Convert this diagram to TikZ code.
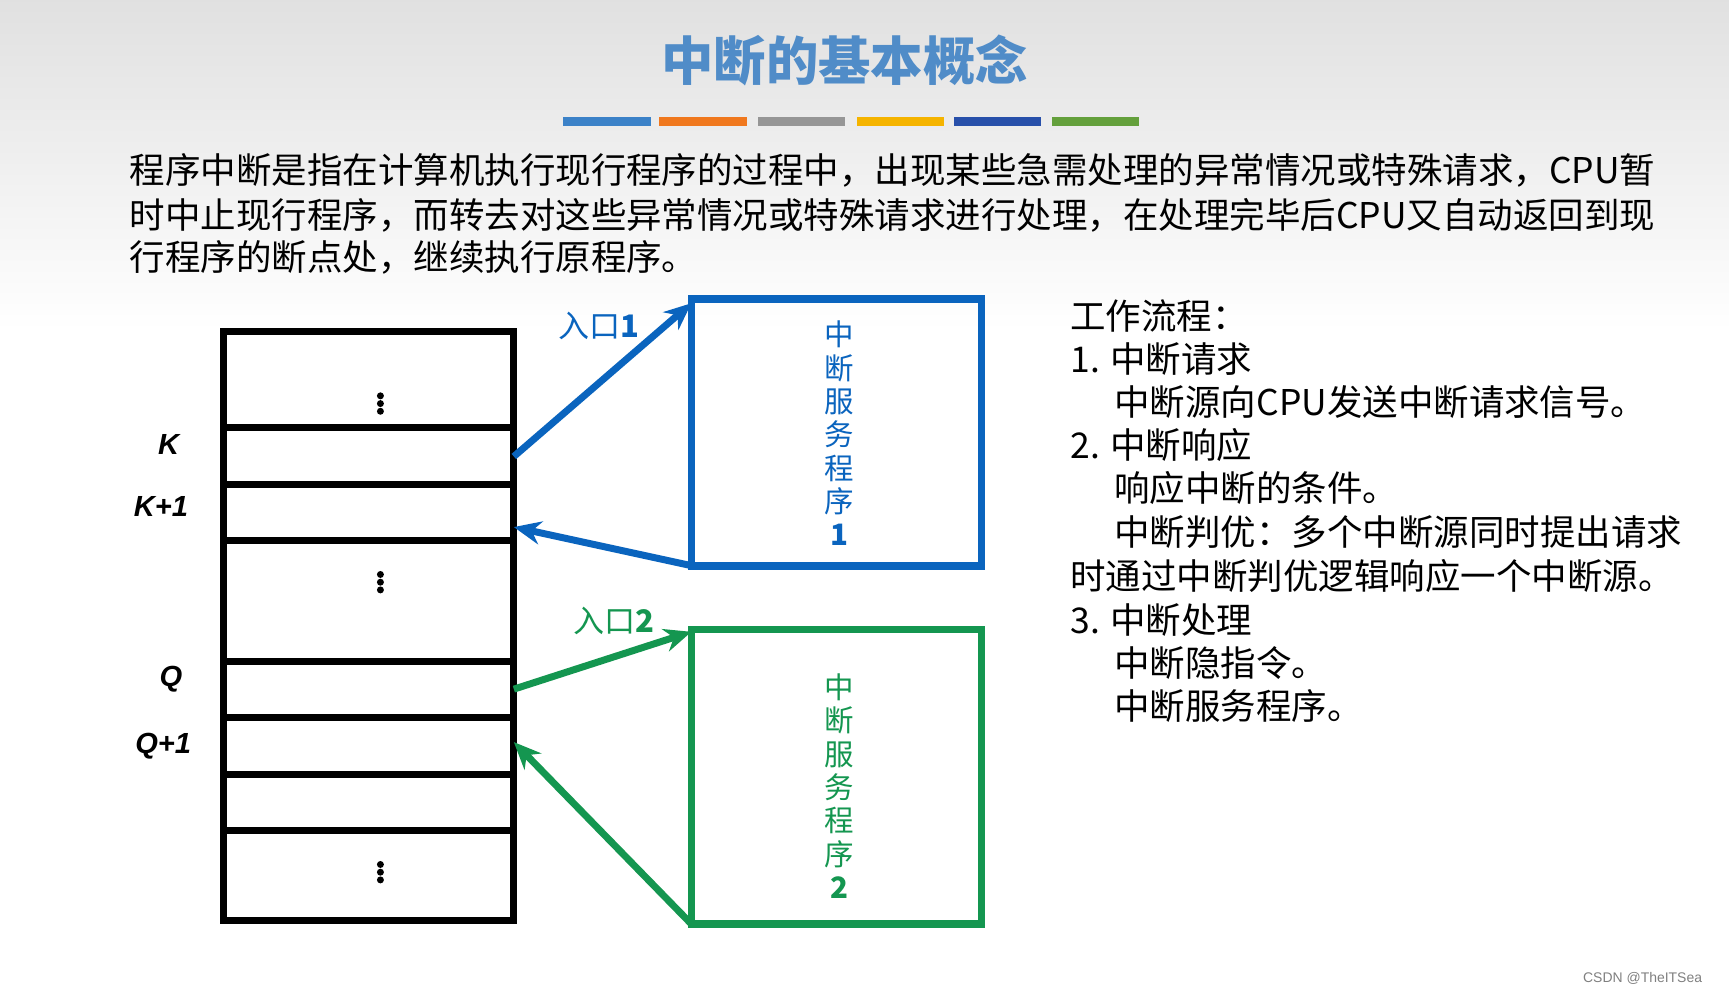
\documentclass[tikz,border=0pt]{standalone}
\usepackage{fontspec}
\setmainfont{Noto Sans CJK SC}
\newfontfamily\latinf{Liberation Sans}
\usetikzlibrary{arrows.meta}
\definecolor{tblue}{RGB}{80,140,200}
\definecolor{bblue}{RGB}{10,100,190}
\definecolor{bgreen}{RGB}{20,150,80}
\definecolor{c1}{RGB}{60,130,200}
\definecolor{c2}{RGB}{240,120,30}
\definecolor{c3}{RGB}{150,150,150}
\definecolor{c4}{RGB}{245,180,0}
\definecolor{c5}{RGB}{40,80,170}
\definecolor{c6}{RGB}{100,160,60}
\tikzset{cell/.style={line width=1.8pt},
 bx/.style={line width=2pt},
 arr/.style={line width=1.8pt,-{Stealth[length=7pt,width=6pt]}},
 body/.style={anchor=west,font=\fontsize{9.15pt}{10pt}\selectfont,inner sep=0},
 lab/.style={font=\latinf\bfseries\itshape\fontsize{7.5pt}{9pt}\selectfont},
 vt/.style={align=center,font=\fontsize{7.6pt}{8.6pt}\selectfont}}
\begin{document}
\begin{tikzpicture}[x=0.01cm,y=-0.01cm]
\useasboundingbox (0,0) rectangle (1568,901);
\shade[top color=black!12,bottom color=white] (0,0) rectangle (1568,300);
\fill[white] (0,300) rectangle (1568,901);
\node[text=tblue,font=\bfseries\fontsize{13.5pt}{15pt}\selectfont] (title) at (766,55) {中断的基本概念};
\foreach \a/\c in {511/c1,598/c2,687/c3,777/c4,865/c5,954/c6}
 \fill[\c] (\a,106) rectangle ++(79,8);
\node[body] (p1) at (117,155) {程序中断是指在计算机执行现行程序的过程中，出现某些急需处理的异常情况或特殊请求，CPU暂};
\node[body] (p2) at (117,195) {时中止现行程序，而转去对这些异常情况或特殊请求进行处理，在处理完毕后CPU又自动返回到现};
\node[body] (p3) at (117,233) {行程序的断点处，继续执行原程序。};
% memory
\draw[cell] (203,301) rectangle (466,835);
\foreach \y in {388,439,490,600,651,702,753} \draw[cell] (203,\y) -- (466,\y);
\foreach \y in {366,528,791} {
  \fill (345,\y-7) circle (0.9pt); \fill (345,\y) circle (0.9pt); \fill (345,\y+7) circle (0.9pt);}
\node[lab] (k) at (153,403) {K};
\node[lab] (k1) at (146,459) {K+1};
\node[lab] (q) at (155,616) {Q};
\node[lab] (q1) at (148,677) {Q+1};
\coordinate (mK) at (466,414);
\coordinate (mK1) at (466,478);
\coordinate (mQ) at (466,625);
\coordinate (mQ1) at (466,673);
% boxes
\draw[bx,bblue] (627,271) rectangle (890,513);
\node[vt,text=bblue] (t1) at (761,393) {中\\断\\服\\务\\程\\序\\\textbf{1}};
\draw[bx,bgreen] (627,571) rectangle (890,838);
\node[vt,text=bgreen] (t2) at (761,713) {中\\断\\服\\务\\程\\序\\\textbf{2}};
\coordinate (b1t) at (627,275);
\coordinate (b1b) at (627,513);
\coordinate (b2t) at (627,573);
\coordinate (b2b) at (627,838);
\draw[arr,bblue] (mK) -- (b1t);
\draw[arr,bblue] (b1b) -- (mK1);
\draw[arr,bgreen] (mQ) -- (b2t);
\draw[arr,bgreen] (b2b) -- (mQ1);
\node[text=bblue,font=\fontsize{8pt}{9pt}\selectfont] (e1) at (543,296) {入口\textbf{1}};
\node[text=bgreen,font=\fontsize{8pt}{9pt}\selectfont] (e2) at (557,563) {入口\textbf{2}};
% right text
\node[body] at (970,287) {工作流程：};
\node[body] at (970,326) {1. 中断请求};
\node[body] at (1010,365) {中断源向CPU发送中断请求信号。};
\node[body] at (970,404) {2. 中断响应};
\node[body] at (1010,443) {响应中断的条件。};
\node[body] at (1010,483) {中断判优：多个中断源同时提出请求};
\node[body] at (970,522) {时通过中断判优逻辑响应一个中断源。};
\node[body] at (970,562) {3. 中断处理};
\node[body] at (1010,601) {中断隐指令。};
\node[body] at (1010,640) {中断服务程序。};
\node[text=gray,font=\latinf\fontsize{3.6pt}{4pt}\selectfont,anchor=east] at (1556,887) {CSDN @TheITSea};
\end{tikzpicture}
\end{document}
